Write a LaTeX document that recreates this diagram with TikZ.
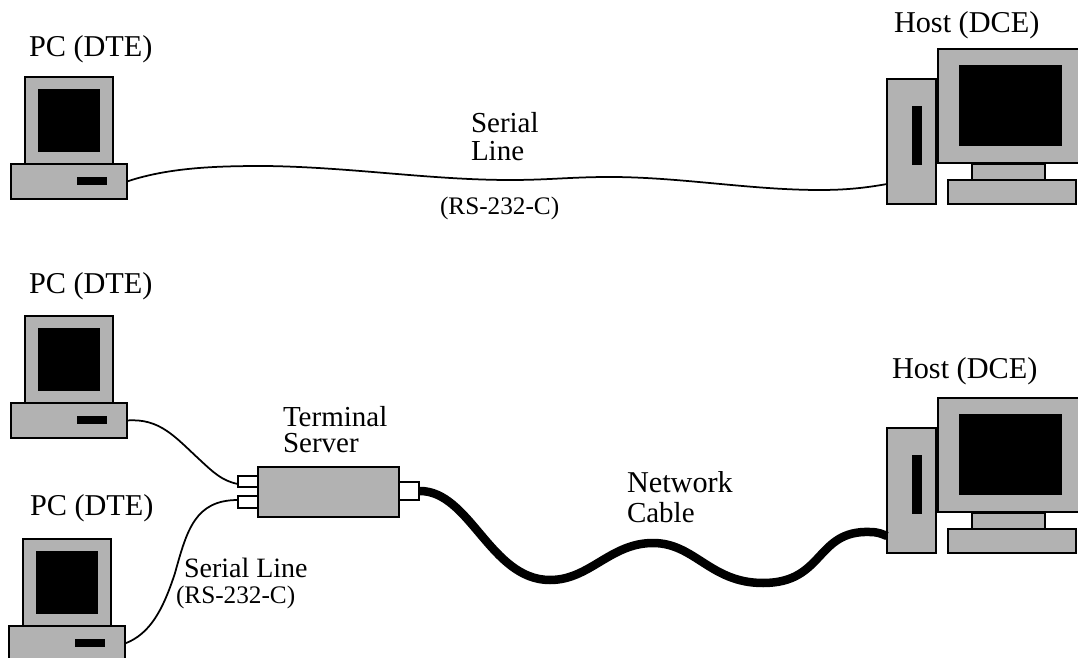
\documentclass[tikz,border=0pt]{standalone}
\usepackage{fontspec}
\setmainfont{Liberation Serif}
\usetikzlibrary{calc}
\definecolor{boxgrey}{gray}{0.70}
\newcommand{\bx}[6]{%
  \pgfmathsetmacro{\bxw}{(#4)-(#2)}\pgfmathsetmacro{\bxh}{(#5)-(#3)}%
  \node[#6,minimum width=\bxw*0.4pt,minimum height=\bxh*0.4pt] (#1) at ({((#2)+(#4))/2},{((#3)+(#5))/2}) {};}
\newcommand{\pcset}[3]{%
  \bx{#1mon}{25+#2}{77+#3}{113+#2}{164+#3}{grey box}
  \bx{#1scr}{38+#2}{89+#3}{100+#2}{152+#3}{black box}
  \bx{#1base}{11+#2}{164+#3}{127+#2}{199+#3}{grey box}
  \bx{#1slot}{77+#2}{177+#3}{107+#2}{185+#3}{black box}}
\newcommand{\hostset}[2]{%
  \bx{#1mon}{938}{49+#2}{1090}{163+#2}{grey box}
  \bx{#1scr}{959}{65+#2}{1062}{146+#2}{black box}
  \bx{#1neck}{972}{164+#2}{1045}{180+#2}{grey box}
  \bx{#1base}{948}{180+#2}{1076}{204+#2}{grey box}
  \bx{#1tower}{887}{79+#2}{936}{204+#2}{grey box}
  \bx{#1slot}{912}{106+#2}{922}{165+#2}{black box}}
\tikzset{
  x=0.4pt,y=-0.4pt,
  grey box/.style={draw=black,line width=0.8pt,fill=boxgrey,inner sep=0pt,outer sep=0pt,rectangle},
  black box/.style={fill=black,inner sep=0pt,outer sep=0pt,rectangle},
  port box/.style={draw=black,line width=0.8pt,fill=white,inner sep=0pt,outer sep=0pt,rectangle},
  lbl/.style={anchor=base west,inner sep=0pt,outer sep=0pt,font=\fontsize{12.1}{14}\selectfont},
  slbl/.style={anchor=base west,inner sep=0pt,outer sep=0pt,font=\fontsize{11.6}{14}\selectfont},
  tlbl/.style={anchor=base west,inner sep=0pt,outer sep=0pt,font=\fontsize{11.2}{14}\selectfont},
  rlbl/.style={anchor=base west,inner sep=0pt,outer sep=0pt,font=\fontsize{10.1}{14}\selectfont},
  thin cable/.style={line width=0.7pt,black},
  thick cable/.style={line width=3.4pt,black},
}
\begin{document}
\begin{tikzpicture}
\useasboundingbox (0,0) rectangle (1078,658);
\clip (0,0) rectangle (1078,658);
\pcset{a}{0}{0}
\pcset{b}{0}{239}
\pcset{c}{-2}{462}
\hostset{h}{0}
\hostset{k}{349}
\bx{ts}{258}{467}{399}{517}{grey box}
\bx{pa}{238}{476}{258}{487}{port box}
\bx{pb}{238}{496}{258}{508}{port box}
\bx{pc}{399}{482}{419}{500}{port box}
\node[lbl] (l1) at (29,57) {PC (DTE)};
\node[lbl] (l2) at (894,33) {Host (DCE)};
\node[slbl] (l3) at (471,133) {Serial};
\node[slbl] (l4) at (471,161) {Line};
\node[rlbl] (l5) at (440,215) {(RS-232-C)};
\node[lbl] (l6) at (29,294) {PC (DTE)};
\node[lbl] (l7) at (30,515) {PC (DTE)};
\node[lbl] (l8) at (892,378) {Host (DCE)};
\node[slbl] (l9) at (283,426) {Terminal};
\node[slbl] (l10) at (283,452) {Server};
\node[tlbl] (l11) at (184,577) {Serial Line};
\node[rlbl] (l12) at (176,603) {(RS-232-C)};
\node[lbl] (l13) at (627,492) {Network};
\node[slbl] (l14) at (627,522) {Cable};
\draw[thin cable] (abase.east) .. controls (170,167) and (220,166) .. (265,166) .. controls (350,167) and (430,180) .. (510,180) .. controls (550,180) and (570,177) .. (610,177) .. controls (680,177) and (750,190) .. (820,190) .. controls (845,190) and (865,188) .. ([yshift=-17pt]htower.west);
\draw[thin cable] (bbase.east) .. controls (160,418) and (175,437) .. (200,460) .. controls (213,472) and (222,481) .. ([yshift=-1pt]pa.west);
\draw[thin cable] (cbase.east) .. controls (150,634) and (163,610) .. (175,573) .. controls (187,530) and (195,500) .. ([yshift=0.8pt]pb.west);
\draw[thick cable] (pc.east) .. controls (470,490) and (490,580) .. (550,580) .. controls (590,580) and (610,543) .. (653,543) .. controls (695,543) and (710,583) .. (763,583) .. controls (825,583) and (815,530) .. (870,532) .. controls (878,532) and (882,534) .. (887,536);
\end{tikzpicture}
\end{document}
